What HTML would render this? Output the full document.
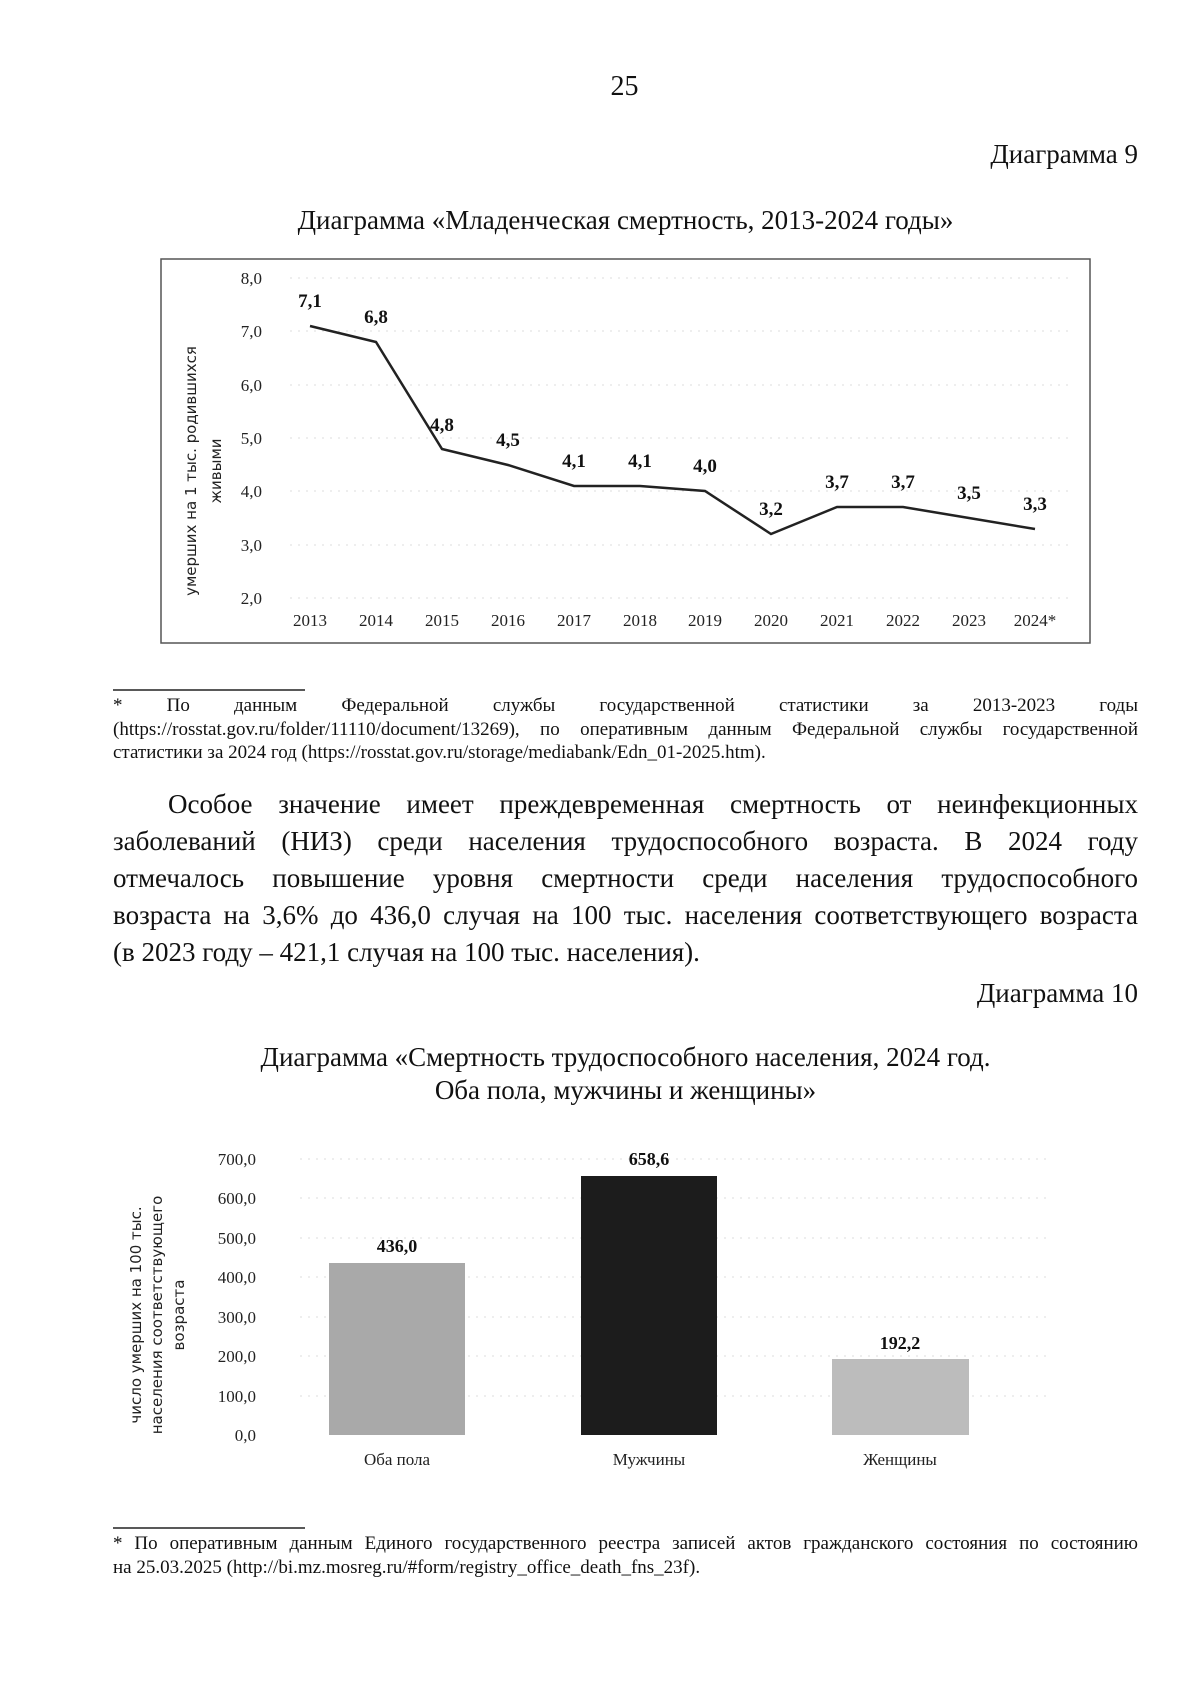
<!DOCTYPE html>
<html><head><meta charset="utf-8"><style>
body{margin:0;background:#fff;}
.pg{position:relative;width:1200px;height:1697px;overflow:hidden;font-family:"Liberation Serif",serif;color:#111;}
.a{position:absolute;white-space:nowrap;}
.j{position:absolute;}
.j div{text-align:justify;text-align-last:justify;white-space:nowrap;}
.j div.l{text-align-last:left;}
svg{position:absolute;left:0;top:0;}
</style></head><body><div class="pg">
<div class="a" style="left:0;width:1249px;text-align:center;top:70px;font-size:28px;line-height:34px">25</div>
<div class="a" style="right:62px;top:137px;font-size:27px;line-height:34px">Диаграмма 9</div>
<div class="a" style="left:0;width:1251px;text-align:center;top:203px;font-size:27px;line-height:34px">Диаграмма «Младенческая смертность, 2013-2024 годы»</div>

<svg width="1200" height="1697" viewBox="0 0 1200 1697" font-family="Liberation Serif, serif">
<rect x="161" y="259" width="929" height="384" fill="none" stroke="#555" stroke-width="1.5"/>
<g stroke="#ddd" stroke-dasharray="2 6" stroke-width="1">
<line x1="290" x2="1070" y1="278" y2="278"/><line x1="290" x2="1070" y1="331" y2="331"/><line x1="290" x2="1070" y1="385" y2="385"/><line x1="290" x2="1070" y1="438" y2="438"/><line x1="290" x2="1070" y1="491" y2="491"/><line x1="290" x2="1070" y1="545" y2="545"/><line x1="290" x2="1070" y1="598" y2="598"/>
</g>
<g font-size="17" text-anchor="end" fill="#222">
<text x="262" y="284">8,0</text><text x="262" y="337">7,0</text><text x="262" y="391">6,0</text><text x="262" y="444">5,0</text><text x="262" y="497">4,0</text><text x="262" y="551">3,0</text><text x="262" y="604">2,0</text>
</g>
<g font-family="DejaVu Sans, sans-serif" font-size="15" fill="#222" text-anchor="middle">
<text transform="translate(196,471) rotate(-90)">умерших на 1 тыс. родившихся</text>
<text transform="translate(221,471) rotate(-90)">живыми</text>
</g>
<polyline fill="none" stroke="#222" stroke-width="2.5" points="310,326 376,342 442,449 508,465 574,486 640,486 705,491 771,534 837,507 903,507 969,518 1035,529"/>
<g font-size="19" font-weight="bold" text-anchor="middle" fill="#111">
<text x="310" y="307">7,1</text><text x="376" y="323">6,8</text><text x="442" y="431">4,8</text><text x="508" y="446">4,5</text><text x="574" y="467">4,1</text><text x="640" y="467">4,1</text><text x="705" y="472">4,0</text><text x="771" y="515">3,2</text><text x="837" y="488">3,7</text><text x="903" y="488">3,7</text><text x="969" y="499">3,5</text><text x="1035" y="510">3,3</text>
</g>
<g font-size="17" text-anchor="middle" fill="#222">
<text x="310" y="626">2013</text><text x="376" y="626">2014</text><text x="442" y="626">2015</text><text x="508" y="626">2016</text><text x="574" y="626">2017</text><text x="640" y="626">2018</text><text x="705" y="626">2019</text><text x="771" y="626">2020</text><text x="837" y="626">2021</text><text x="903" y="626">2022</text><text x="969" y="626">2023</text><text x="1035" y="626">2024*</text>
</g>
<line x1="113" x2="305" y1="690" y2="690" stroke="#222" stroke-width="1.5"/>

<g stroke="#ddd" stroke-dasharray="2 6" stroke-width="1">
<line x1="300" x2="1050" y1="1159" y2="1159"/><line x1="300" x2="1050" y1="1198" y2="1198"/><line x1="300" x2="1050" y1="1238" y2="1238"/><line x1="300" x2="1050" y1="1277" y2="1277"/><line x1="300" x2="1050" y1="1317" y2="1317"/><line x1="300" x2="1050" y1="1356" y2="1356"/><line x1="300" x2="1050" y1="1396" y2="1396"/>
</g>
<g font-size="17" text-anchor="end" fill="#222">
<text x="256" y="1165">700,0</text><text x="256" y="1204">600,0</text><text x="256" y="1244">500,0</text><text x="256" y="1283">400,0</text><text x="256" y="1323">300,0</text><text x="256" y="1362">200,0</text><text x="256" y="1402">100,0</text><text x="256" y="1441">0,0</text>
</g>
<g font-family="DejaVu Sans, sans-serif" font-size="15" fill="#222" text-anchor="middle">
<text transform="translate(141,1315) rotate(-90)">число умерших на 100 тыс.</text>
<text transform="translate(162,1315) rotate(-90)">населения соответствующего</text>
<text transform="translate(184,1315) rotate(-90)">возраста</text>
</g>
<rect x="329" y="1263" width="136" height="172" fill="#a9a9a9"/>
<rect x="581" y="1176" width="136" height="259" fill="#1c1c1c"/>
<rect x="832" y="1359" width="137" height="76" fill="#bcbcbc"/>
<g font-size="18" font-weight="bold" text-anchor="middle" fill="#111">
<text x="397" y="1252">436,0</text><text x="649" y="1165">658,6</text><text x="900" y="1349">192,2</text>
</g>
<g font-size="17" text-anchor="middle" fill="#222">
<text x="397" y="1465">Оба пола</text><text x="649" y="1465">Мужчины</text><text x="900" y="1465">Женщины</text>
</g>
<line x1="113" x2="305" y1="1528" y2="1528" stroke="#222" stroke-width="1.5"/>
</svg>

<div class="j" style="left:113px;width:1025px;top:694px;font-size:19px;line-height:23.5px">
<div>*&nbsp;По данным Федеральной службы государственной статистики за 2013-2023 годы</div>
<div>(https://rosstat.gov.ru/folder/11110/document/13269), по оперативным данным Федеральной службы государственной</div>
<div class="l">статистики за 2024 год (https://rosstat.gov.ru/storage/mediabank/Edn_01-2025.htm).</div>
</div>

<div class="j" style="left:113px;width:1025px;top:786px;font-size:27px;line-height:37px">
<div style="padding-left:55px">Особое значение имеет преждевременная смертность от неинфекционных</div>
<div>заболеваний (НИЗ) среди населения трудоспособного возраста. В 2024 году</div>
<div>отмечалось повышение уровня смертности среди населения трудоспособного</div>
<div>возраста на 3,6% до 436,0 случая на 100 тыс. населения соответствующего возраста</div>
<div class="l">(в 2023 году – 421,1 случая на 100 тыс. населения).</div>
</div>

<div class="a" style="right:62px;top:976px;font-size:27px;line-height:34px">Диаграмма 10</div>
<div class="a" style="left:0;width:1251px;text-align:center;top:1041px;font-size:27px;line-height:33px">Диаграмма «Смертность трудоспособного населения, 2024 год.<br>Оба пола, мужчины и женщины»</div>

<div class="j" style="left:113px;width:1025px;top:1532px;font-size:19px;line-height:24px">
<div>*&nbsp;По оперативным данным Единого государственного реестра записей актов гражданского состояния по состоянию</div>
<div class="l">на 25.03.2025 (http://bi.mz.mosreg.ru/#form/registry_office_death_fns_23f).</div>
</div>
</div></body></html>
